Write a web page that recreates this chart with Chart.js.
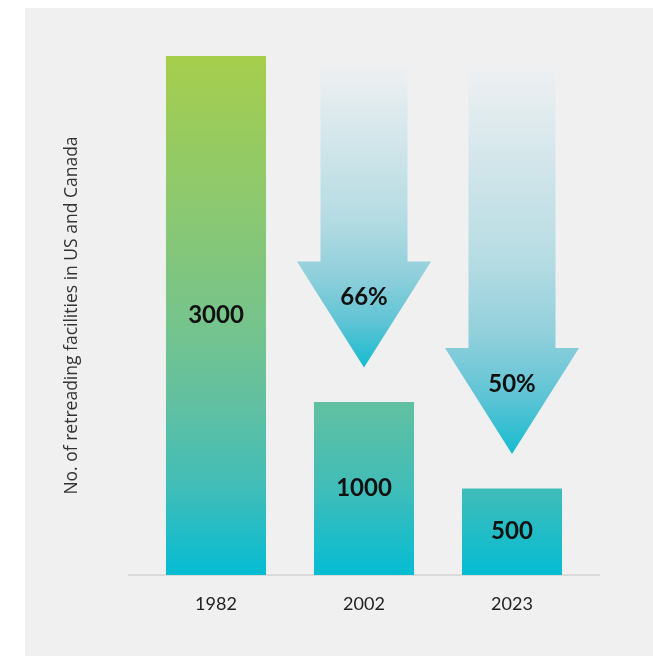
<!DOCTYPE html>
<html>
<head>
<meta charset="utf-8">
<script src="https://cdn.jsdelivr.net/npm/chart.js@4.4.1/dist/chart.umd.min.js"></script>
<style>
  body { margin: 0; background: #ffffff; }
  #panel { position: absolute; left: 25px; top: 8px; right: 0; bottom: 0; background: #f0f0f0; }
  #chart { position: absolute; left: 0; top: 0; }
</style>
</head>
<body>
<div id="panel"></div>
<canvas id="chart" width="653" height="656"></canvas>
<script>
const years = ["1982", "2002", "2023"];
const facilities = [3000, 1000, 500];
// arrows: drawn from arrowTop down to arrowTip (in facility units)
const arrowTop = [null, 2950, 2950];
const arrowTip = [null, 1200, 700];
const dropLabels = [null, "66%", "50%"];

const arrowData = arrowTop.map((t, i) => t === null ? null : [arrowTip[i], t]);

function barGradient(ctx, area) {
    const g = ctx.createLinearGradient(0, area.top, 0, area.bottom);
    g.addColorStop(0, "#a6ce4c");
    g.addColorStop(0.5, "#78c48a");
    g.addColorStop(0.67, "#61c0a1");
    g.addColorStop(0.83, "#41bdb8");
    g.addColorStop(1, "#05bcd3");
    return g;
}

const baseLine = {
    id: "baseLine",
    beforeDatasetsDraw(chart) {
        const ctx = chart.ctx;
        const area = chart.chartArea;
        const y = chart.scales.y.getPixelForValue(0);
        ctx.save();
        ctx.strokeStyle = "#dadada";
        ctx.lineWidth = 2;
        ctx.beginPath();
        ctx.moveTo(area.left - 14, y);
        ctx.lineTo(area.right + 14, y);
        ctx.stroke();
        ctx.restore();
    }
};

const arrowsAndLabels = {
    id: "arrowsAndLabels",
    afterDatasetsDraw(chart) {
        const ctx = chart.ctx;
        ctx.save();

        // arrows
        const arrowMeta = chart.getDatasetMeta(1);
        arrowMeta.data.forEach((el, i) => {
            if (arrowData[i] === null) return;
            const p = el.getProps(["x", "y", "base", "width"], true);
            const top = Math.min(p.y, p.base);
            const tip = Math.max(p.y, p.base);
            const shaft = p.width * 0.435;
            const head = p.width * 0.67;
            const headTop = tip - 106;
            const g = ctx.createLinearGradient(0, top, 0, tip);
            g.addColorStop(0, "#eff0f2");
            g.addColorStop(0.5, "#b6dce3");
            g.addColorStop(0.7, "#8fcfdb");
            g.addColorStop(0.85, "#5fc4d5");
            g.addColorStop(1, "#16bbcf");
            ctx.fillStyle = g;
            ctx.beginPath();
            ctx.moveTo(p.x - shaft, top);
            ctx.lineTo(p.x + shaft, top);
            ctx.lineTo(p.x + shaft, headTop);
            ctx.lineTo(p.x + head, headTop);
            ctx.lineTo(p.x, tip);
            ctx.lineTo(p.x - head, headTop);
            ctx.lineTo(p.x - shaft, headTop);
            ctx.closePath();
            ctx.fill();

            ctx.fillStyle = "#111111";
            ctx.font = "bold 24px Lato";
            ctx.textAlign = "center";
            ctx.textBaseline = "middle";
            ctx.fillText(dropLabels[i], p.x, headTop + 36);
        });

        // bar values
        const barMeta = chart.getDatasetMeta(0);
        ctx.fillStyle = "#111111";
        ctx.font = "bold 24px Lato";
        ctx.textAlign = "center";
        ctx.textBaseline = "middle";
        barMeta.data.forEach((el, i) => {
            const p = el.getProps(["x", "y", "base"], true);
            ctx.fillText(String(facilities[i]), p.x, (p.y + p.base) / 2);
        });
        ctx.restore();
    }
};

new Chart(document.getElementById("chart"), {
    type: "bar",
    data: {
        labels: years,
        datasets: [
            {
                label: "Facilities",
                data: facilities,
                grouped: false,
                backgroundColor: (c) => {
                    const area = c.chart.chartArea;
                    if (!area) return "#05bcd3";
                    return barGradient(c.chart.ctx, area);
                },
                barPercentage: 0.676,
                categoryPercentage: 1
            },
            {
                label: "Drop",
                data: arrowData,
                grouped: false,
                backgroundColor: "rgba(0,0,0,0)",
                barPercentage: 0.676,
                categoryPercentage: 1
            }
        ]
    },
    options: {
        responsive: false,
        animation: false,
        layout: { padding: { left: 58, right: 67, top: 56, bottom: 0 } },
        plugins: {
            legend: { display: false },
            tooltip: { enabled: false }
        },
        scales: {
            x: {
                grid: { display: false, drawTicks: false },
                border: { display: false },
                ticks: { color: "#222222", font: { family: "Lato", size: 18 }, padding: 18 },
                afterFit: (s) => { s.height = 81; }
            },
            y: {
                min: 0,
                max: 3000,
                grid: { display: false, drawTicks: false },
                border: { display: false },
                ticks: { display: false },
                title: {
                    display: true,
                    text: "No. of retreading facilities in US and Canada",
                    color: "#333333",
                    font: { family: "'Open Sans'", size: 17.5 }
                },
                afterFit: (s) => { s.width = 84; }
            }
        }
    },
    plugins: [baseLine, arrowsAndLabels]
});
</script>
</body>
</html>
